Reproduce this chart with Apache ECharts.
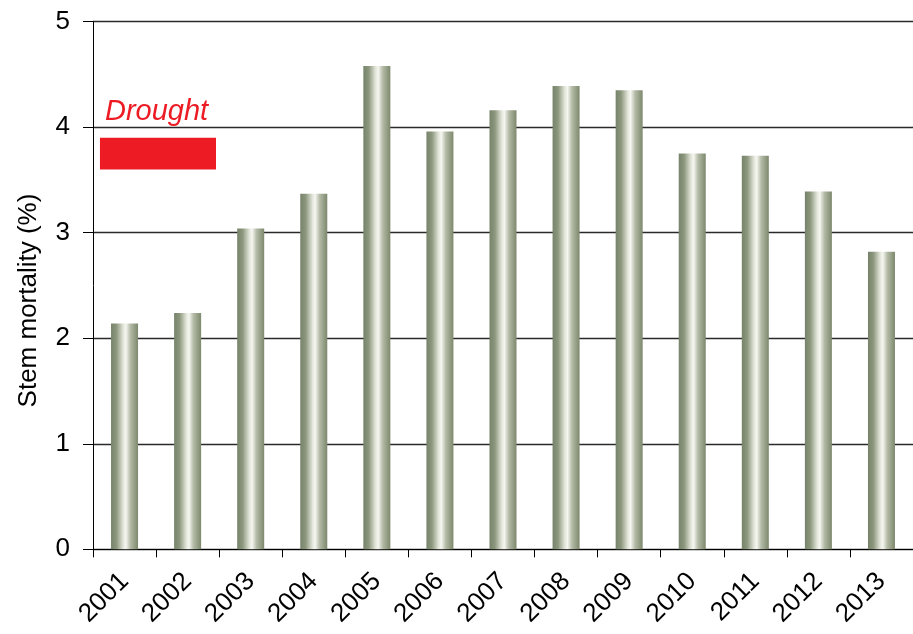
<!DOCTYPE html>
<html>
<head>
<meta charset="utf-8">
<script src="https://cdn.jsdelivr.net/npm/echarts@6/dist/echarts.min.js"></script>
<style>html,body{margin:0;padding:0;background:#fff}#c{width:913px;height:634px}</style>
</head>
<body>
<div id="c"></div>
<script>
var years = ['2001','2002','2003','2004','2005','2006','2007','2008','2009','2010','2011','2012','2013'];
var mortality = [2.14, 2.24, 3.04, 3.37, 4.58, 3.96, 4.16, 4.39, 4.35, 3.75, 3.73, 3.39, 2.82];
var yTicks = [0, 1, 2, 3, 4, 5];
var droughtYears = ['2001', '2002'];
var droughtBand = [3.6, 3.9];
var droughtLabel = 'Drought';

var chart = echarts.init(document.getElementById('c'));
var font = '"Liberation Sans", Arial, sans-serif';
var barColor = new echarts.graphic.LinearGradient(0, 0, 1, 0, [
  {offset: 0, color: '#76836a'},
  {offset: 0.2, color: '#8c977d'},
  {offset: 0.45, color: '#e2e5d9'},
  {offset: 0.55, color: '#f6f7f1'},
  {offset: 0.72, color: '#b3baa6'},
  {offset: 1, color: '#7d886c'}
]);

chart.setOption({
  animation: false,
  backgroundColor: '#fff',
  grid: {left: 93, right: 0, top: 21.7, bottom: 84.7, containLabel: false},
  xAxis: {
    type: 'category',
    data: years,
    boundaryGap: true,
    axisLine: {lineStyle: {color: '#000', width: 1}},
    axisTick: {show: true, length: 8, lineStyle: {color: '#000'}},
    axisLabel: {rotate: 45, fontSize: 26, color: '#000', fontFamily: font, margin: 28}
  },
  yAxis: {
    type: 'value',
    min: yTicks[0],
    max: yTicks[yTicks.length - 1],
    interval: 1,
    name: 'Stem mortality (%)',
    nameLocation: 'middle',
    nameGap: 51,
    nameTextStyle: {fontSize: 26, color: '#000', fontFamily: font, padding: [0, 0, 0, -30]},
    axisLine: {show: true, lineStyle: {color: '#000', width: 1}},
    axisTick: {show: true, length: 10, lineStyle: {color: '#000'}},
    axisLabel: {fontSize: 26, color: '#000', fontFamily: font, margin: 23},
    splitLine: {show: true, lineStyle: {color: '#2a2a2a', width: 1.3}}
  },
  series: [{
    type: 'bar',
    data: mortality,
    barWidth: 27,
    itemStyle: {
      color: barColor,
      shadowColor: 'rgba(0,0,0,0.6)',
      shadowBlur: 4,
      shadowOffsetX: 3,
      shadowOffsetY: 3
    }
  }]
});

var c1 = chart.convertToPixel({xAxisIndex: 0}, droughtYears[0]);
var c2 = chart.convertToPixel({xAxisIndex: 0}, droughtYears[droughtYears.length - 1]);
var band = c2 - c1;
var yTop = chart.convertToPixel({yAxisIndex: 0}, droughtBand[1]);
var yBot = chart.convertToPixel({yAxisIndex: 0}, droughtBand[0]);
var x0 = c1 - band * 0.39;
var x1 = c2 + band * 0.45;
chart.setOption({
  graphic: [
    {type: 'rect', shape: {x: x0, y: yTop, width: x1 - x0, height: yBot - yTop}, style: {fill: '#ed1c24'}, z: 10},
    {type: 'text', x: x0 + 5, y: yTop - 11, style: {text: droughtLabel, fill: '#ed1c24', font: 'italic 29px ' + font, textVerticalAlign: 'bottom'}, z: 10}
  ]
});
</script>
</body>
</html>
